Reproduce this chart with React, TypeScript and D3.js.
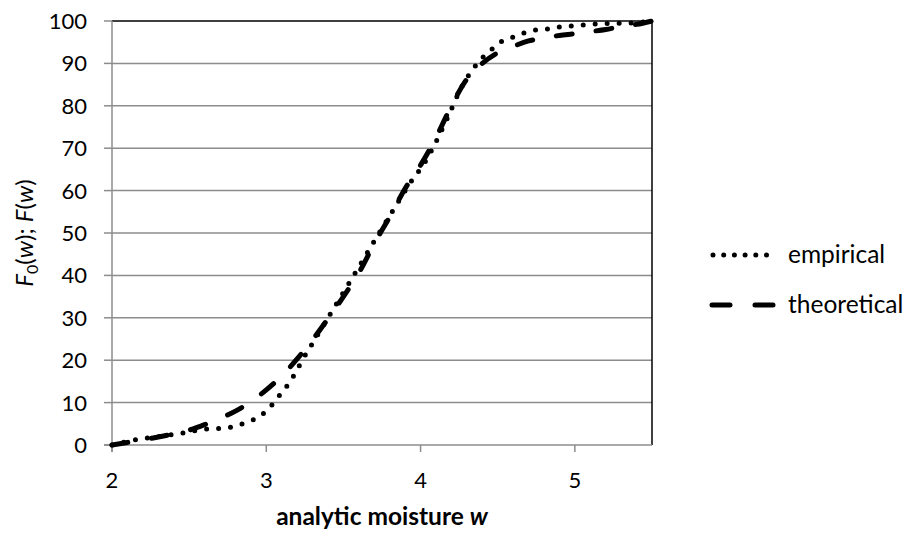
import React, { useEffect, useRef } from "react";
import * as d3 from "d3";

const empiricalW = [2.0, 2.15, 2.3, 2.47, 2.62, 2.71, 2.78, 2.86, 2.93, 3.0, 3.05, 3.1, 3.15, 3.19, 3.23, 3.3, 3.43, 3.6, 3.73, 3.85, 3.93, 4.03, 4.1, 4.17, 4.27, 4.31, 4.41, 4.47, 4.53, 4.61, 4.68, 4.75, 4.82, 4.9, 5.0, 5.1, 5.2, 5.35, 5.5];
const empiricalF = [0, 1.2, 2.0, 2.9, 3.8, 3.9, 4.3, 5.2, 6.2, 8, 10, 12.4, 14.7, 17.1, 19.8, 24, 31.8, 42, 49.9, 57, 61.7, 66.8, 71.5, 76.8, 84.7, 87.1, 91.7, 93.6, 95.3, 96.3, 97.3, 97.9, 98.1, 98.6, 98.9, 99.2, 99.4, 99.5, 100];

const theoreticalW = [2.0, 2.1, 2.2, 2.3, 2.4, 2.5, 2.6, 2.7, 2.8, 2.9, 3.0, 3.1, 3.2, 3.3, 3.4, 3.5, 3.6, 3.7, 3.8, 3.9, 4.0, 4.1, 4.2, 4.3, 4.4, 4.5, 4.6, 4.7, 4.8, 4.9, 5.0, 5.1, 5.2, 5.3, 5.4, 5.5];
const theoreticalF = [0, 0.6, 1.2, 1.9, 2.6, 3.5, 4.8, 6.3, 8, 10.2, 13, 16.3, 20.3, 24.8, 29.8, 35, 40.6, 47.5, 53.8, 60.5, 66, 72.5, 80, 86.3, 90, 92.5, 94, 95.3, 96, 96.6, 97, 97.5, 98, 98.7, 99.2, 100];

const xTicks = [2, 3, 4, 5];
const yTicks = [0, 10, 20, 30, 40, 50, 60, 70, 80, 90, 100];
const seriesNames = ["empirical", "theoretical"];

const FONT = "Lato, 'Open Sans', sans-serif";

export default function App() {
  const ref = useRef<SVGSVGElement>(null);

  useEffect(() => {
    const svg = d3.select(ref.current);
    svg.selectAll("*").remove();

    const left = 112, right = 652, top = 21, bottom = 445;
    const x = d3.scaleLinear().domain([2, 5.5]).range([left, right]);
    const y = d3.scaleLinear().domain([0, 100]).range([bottom, top]);

    const grid = "#8c8c8c";

    svg.append("g").selectAll("line").data(yTicks.filter(t => t > 0 && t < 100)).join("line")
      .attr("x1", left).attr("x2", right)
      .attr("y1", d => y(d)).attr("y2", d => y(d))
      .attr("stroke", grid).attr("stroke-width", 1.5);

    svg.append("line").attr("x1", left).attr("x2", right).attr("y1", top).attr("y2", top)
      .attr("stroke", "#000").attr("stroke-width", 1.5);
    svg.append("line").attr("x1", right).attr("x2", right).attr("y1", top).attr("y2", bottom)
      .attr("stroke", "#000").attr("stroke-width", 1.5);

    svg.append("line").attr("x1", left).attr("x2", left).attr("y1", top).attr("y2", bottom + 7)
      .attr("stroke", grid).attr("stroke-width", 1.5);
    svg.append("g").selectAll("line").data(yTicks).join("line")
      .attr("x1", left - 8).attr("x2", left)
      .attr("y1", d => y(d)).attr("y2", d => y(d))
      .attr("stroke", grid).attr("stroke-width", 1.5);
    svg.append("g").selectAll("text").data(yTicks).join("text")
      .attr("x", 87).attr("y", d => y(d) + 8)
      .attr("text-anchor", "end")
      .attr("font-family", FONT).attr("font-size", 22).attr("fill", "#000")
      .text(d => String(d));

    svg.append("line").attr("x1", left - 8).attr("x2", right).attr("y1", bottom).attr("y2", bottom)
      .attr("stroke", grid).attr("stroke-width", 1.5);
    svg.append("g").selectAll("line").data(xTicks).join("line")
      .attr("x1", d => x(d)).attr("x2", d => x(d))
      .attr("y1", bottom).attr("y2", bottom + 7)
      .attr("stroke", grid).attr("stroke-width", 1.5);
    svg.append("g").selectAll("text").data(xTicks).join("text")
      .attr("x", d => x(d)).attr("y", 488)
      .attr("text-anchor", "middle")
      .attr("font-family", FONT).attr("font-size", 22).attr("fill", "#000")
      .text(d => String(d));

    const xt = svg.append("text").attr("x", (left + right) / 2).attr("y", 525)
      .attr("text-anchor", "middle").attr("font-family", FONT).attr("font-size", 24.5)
      .attr("font-weight", "bold").attr("fill", "#000");
    xt.append("tspan").text("analytic moisture ");
    xt.append("tspan").attr("font-style", "italic").text("w");

    const yt = svg.append("text").attr("transform", "translate(33,233) rotate(-90)")
      .attr("text-anchor", "middle").attr("font-family", FONT).attr("font-size", 24).attr("fill", "#000");
    yt.append("tspan").attr("font-style", "italic").text("F");
    yt.append("tspan").attr("font-size", 16).attr("dy", 5).text("0");
    yt.append("tspan").attr("dy", -5).text("(");
    yt.append("tspan").attr("font-style", "italic").text("w");
    yt.append("tspan").text("); ");
    yt.append("tspan").attr("font-style", "italic").text("F");
    yt.append("tspan").text("(");
    yt.append("tspan").attr("font-style", "italic").text("w");
    yt.append("tspan").text(")");

    const line = d3.line<[number, number]>().x(d => x(d[0])).y(d => y(d[1])).curve(d3.curveMonotoneX);
    const empData = empiricalW.map((w, i) => [w, empiricalF[i]] as [number, number]);
    const theoData = theoreticalW.map((w, i) => [w, theoreticalF[i]] as [number, number]);

    const dotted = "0 12";
    const dashed = "16 24";

    svg.append("path").attr("d", line(empData) || "")
      .attr("fill", "none").attr("stroke", "#000").attr("stroke-width", 5)
      .attr("stroke-linecap", "round").attr("stroke-dasharray", dotted);
    svg.append("path").attr("d", line(theoData) || "")
      .attr("fill", "none").attr("stroke", "#000").attr("stroke-width", 5)
      .attr("stroke-linecap", "round").attr("stroke-dasharray", dashed);

    const lg = svg.append("g");
    const legendY = [255, 305];
    seriesNames.forEach((name, i) => {
      lg.append("line").attr("x1", i === 0 ? 713 : 712).attr("x2", i === 0 ? 777 : 775)
        .attr("y1", legendY[i]).attr("y2", legendY[i])
        .attr("stroke", "#000").attr("stroke-width", 5)
        .attr("stroke-linecap", "round").attr("stroke-dasharray", i === 0 ? "0 10.7" : "18 25");
      lg.append("text").attr("x", 788).attr("y", legendY[i] + 8)
        .attr("font-family", FONT).attr("font-size", 24.5).attr("fill", "#000").text(name);
    });
  }, []);

  return (
    <svg ref={ref} width={910} height={535}
      style={{ position: "absolute", left: 0, top: 0, background: "#fff" }} />
  );
}
